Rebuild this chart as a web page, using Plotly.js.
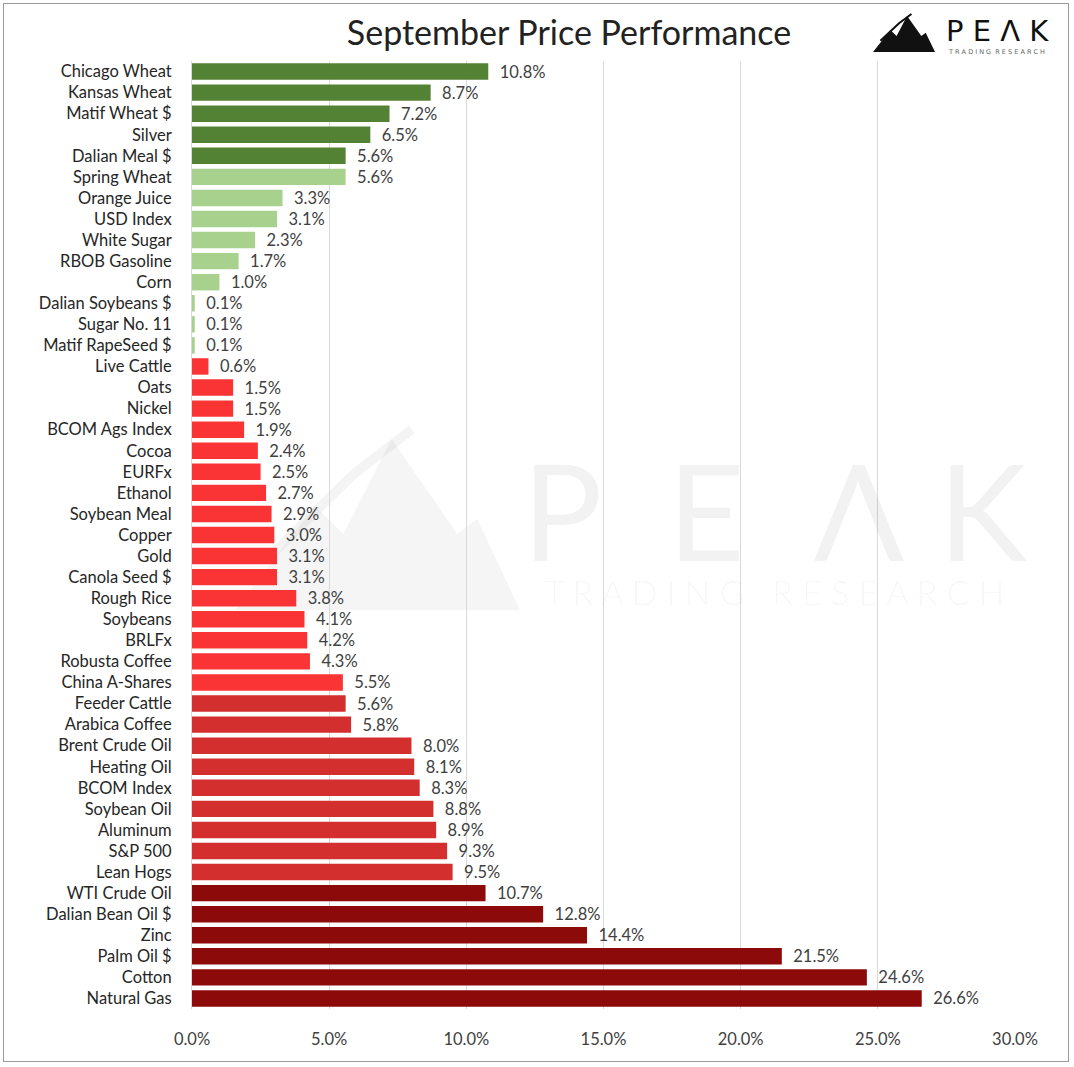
<!DOCTYPE html>
<html>
<head>
<meta charset="utf-8">
<script src="https://cdn.plot.ly/plotly-3.0.1.min.js"></script>
<style>
  html, body { margin: 0; padding: 0; background: #fff; }
  #frame { position: absolute; left: 3px; top: 3px; width: 1066px; height: 1059px; border: 1px solid #9a9a9a; box-sizing: border-box; pointer-events: none; z-index: 5; }
  #chart { width: 1074px; height: 1067px; }
</style>
</head>
<body>
<div id="frame"></div>
<div id="chart"></div>
<script>
// ---- data ----
const categories = [
  "Chicago Wheat", "Kansas Wheat", "Matif Wheat $", "Silver", "Dalian Meal $",
  "Spring Wheat", "Orange Juice", "USD Index", "White Sugar", "RBOB Gasoline",
  "Corn", "Dalian Soybeans $", "Sugar No. 11", "Matif RapeSeed $",
  "Live Cattle", "Oats", "Nickel", "BCOM Ags Index", "Cocoa", "EURFx", "Ethanol",
  "Soybean Meal", "Copper", "Gold", "Canola Seed $", "Rough Rice", "Soybeans",
  "BRLFx", "Robusta Coffee", "China A-Shares",
  "Feeder Cattle", "Arabica Coffee", "Brent Crude Oil", "Heating Oil", "BCOM Index",
  "Soybean Oil", "Aluminum", "S&P 500", "Lean Hogs",
  "WTI Crude Oil", "Dalian Bean Oil $", "Zinc", "Palm Oil $", "Cotton", "Natural Gas"
];
const values = [
  10.8, 8.7, 7.2, 6.5, 5.6,
  5.6, 3.3, 3.1, 2.3, 1.7,
  1.0, 0.1, 0.1, 0.1,
  0.6, 1.5, 1.5, 1.9, 2.4, 2.5, 2.7,
  2.9, 3.0, 3.1, 3.1, 3.8, 4.1,
  4.2, 4.3, 5.5,
  5.6, 5.8, 8.0, 8.1, 8.3,
  8.8, 8.9, 9.3, 9.5,
  10.7, 12.8, 14.4, 21.5, 24.6, 26.6
];
const groups = [
  "gainStrong", "gainStrong", "gainStrong", "gainStrong", "gainStrong",
  "gainMild", "gainMild", "gainMild", "gainMild", "gainMild",
  "gainMild", "gainMild", "gainMild", "gainMild",
  "lossMild", "lossMild", "lossMild", "lossMild", "lossMild", "lossMild", "lossMild",
  "lossMild", "lossMild", "lossMild", "lossMild", "lossMild", "lossMild",
  "lossMild", "lossMild", "lossMild",
  "lossMid", "lossMid", "lossMid", "lossMid", "lossMid",
  "lossMid", "lossMid", "lossMid", "lossMid",
  "lossStrong", "lossStrong", "lossStrong", "lossStrong", "lossStrong", "lossStrong"
];
const xTickValues = [0, 5, 10, 15, 20, 25, 30];

// ---- styling ----
const groupColors = {
  gainStrong: "#548235",
  gainMild: "#a9d18e",
  lossMild: "#fa3434",
  lossMid: "#d42f2f",
  lossStrong: "#8c0a0a"
};
const FONT = "Lato, 'Open Sans', sans-serif";

const W = 1074, H = 1067;
const M = { l: 192, r: 59, t: 61, b: 58 };
const PW = W - M.l - M.r, PH = H - M.t - M.b;
// helpers for decoration placement (pixel -> paper)
const px = x => (x - M.l) / PW;
const py = y => (H - M.b - y) / PH;

const trace = {
  type: "bar",
  orientation: "h",
  y: categories,
  x: values,
  marker: { color: groups.map(g => groupColors[g]) },
  text: values.map(v => "  " + v.toFixed(1) + "%"),
  textposition: "outside",
  constraintext: "none",
  cliponaxis: false,
  textfont: { family: FONT, size: 16.5, color: "#404040" },
  hoverinfo: "y+x"
};

// logo mountain (top right) and watermark
const shapes = [];
function mountain(x0, y0, w, h, color, opacity) {
  const pts = [
    [x0, y0 + h], [x0 + w * 0.28, y0 + h * 0.45], [x0 + w * 0.38, y0 + h * 0.6],
    [x0 + w * 0.55, y0 + h * 0.1], [x0 + w * 0.78, y0 + h * 0.6], [x0 + w * 0.85, y0 + h * 0.52],
    [x0 + w, y0 + h]
  ];
  const path = "M " + pts.map(p => px(p[0]).toFixed(4) + "," + py(p[1]).toFixed(4)).join(" L ") + " Z";
  shapes.push({ type: "path", xref: "paper", yref: "paper", path: path,
    fillcolor: color, opacity: opacity, line: { width: 0 }, layer: "below" });
  const ar = [[x0 + w * 0.12, y0 + h * 0.72], [x0 + w * 0.42, y0 + h * 0.28], [x0 + w * 0.62, y0 + h * 0.05]];
  const ap = "M " + ar.map(p => px(p[0]).toFixed(4) + "," + py(p[1]).toFixed(4)).join(" L ");
  shapes.push({ type: "path", xref: "paper", yref: "paper", path: ap,
    line: { color: color, width: Math.max(2, w / 30) }, opacity: opacity, layer: "below" });
}
mountain(873, 12, 62, 40, "#111111", 1);
mountain(235, 420, 285, 190, "#000000", 0.04);

const nb = "&nbsp;";
const annotations = [
  { xref: "paper", yref: "paper", x: px(944), y: py(31), xanchor: "left", yanchor: "middle",
    text: "P E \u039B K", showarrow: false, font: { family: "'DejaVu Sans', sans-serif", size: 29, color: "#111" } },
  { xref: "paper", yref: "paper", x: px(946), y: py(52), xanchor: "left", yanchor: "middle",
    text: "T R A D I N G  R E S E A R C H", showarrow: false, font: { family: "'DejaVu Sans', sans-serif", size: 6.5, color: "#666" } },
  { xref: "paper", yref: "paper", x: px(774), y: py(614), xanchor: "center", yanchor: "bottom",
    align: "center", showarrow: false,
    text: "<span style='font-size:134px;font-weight:400'>P" + nb + nb + "E" + nb + nb + "\u039B" + nb + "K</span><br>T R A D I N G   R E S E A R C H",
    font: { family: "Lato, sans-serif", weight: 300, size: 34, color: "rgba(0,0,0,0.05)" } }
];

const layout = {
  width: W, height: H,
  margin: M,
  paper_bgcolor: "#ffffff",
  plot_bgcolor: "#ffffff",
  showlegend: false,
  bargap: 0.22,
  font: { family: FONT, size: 16, color: "#333" },
  title: {
    text: "September Price Performance",
    xref: "container", x: 569 / W, xanchor: "center",
    yref: "container", y: 1 - 33 / H, yanchor: "middle",
    font: { family: FONT, size: 34, color: "#222" }
  },
  xaxis: {
    range: [0, 30],
    tickvals: xTickValues,
    ticktext: xTickValues.map(v => v.toFixed(1) + "%"),
    showgrid: true, gridcolor: "#d9d9d9", gridwidth: 1,
    zeroline: false, showline: false,
    ticks: "", ticklabelstandoff: 18,
    tickfont: { family: FONT, size: 16.5, color: "#404040" },
    fixedrange: true
  },
  yaxis: {
    type: "category",
    autorange: "reversed",
    showgrid: false, zeroline: false,
    showline: true, linecolor: "#d9d9d9", linewidth: 1,
    ticks: "", ticklabelstandoff: 16,
    tickfont: { family: FONT, size: 16.5, color: "#262626" },
    fixedrange: true
  },
  shapes: shapes,
  annotations: annotations
};

Plotly.newPlot("chart", [trace], layout, { displayModeBar: false, staticPlot: true });
</script>
</body>
</html>
